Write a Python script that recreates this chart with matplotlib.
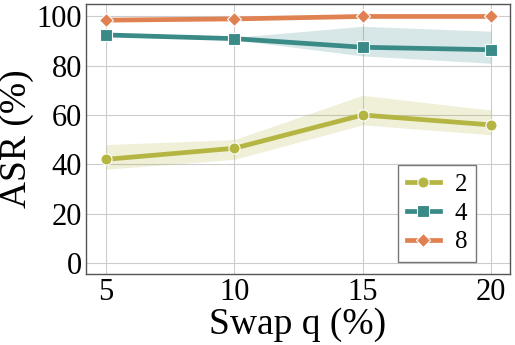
import matplotlib
matplotlib.use('Agg')
import matplotlib.pyplot as plt
import numpy as np

plt.rcParams['font.family'] = ['Liberation Serif', 'DejaVu Serif']
plt.rcParams['mathtext.fontset'] = 'stix'

# swap ratio q (%)
q = [5, 10, 15, 20]

# ASR mean and band (low/high) per setting
asr_2 = [42, 46.5, 60, 56]
lo_2 = [38, 42, 56, 52]
hi_2 = [48, 50, 68, 62]

asr_4 = [92.5, 91, 87.5, 86.5]
lo_4 = [92, 90.5, 84, 81]
hi_4 = [93, 91.5, 96, 94]

asr_8 = [98.5, 99, 100, 100]
lo_8 = [98, 98.7, 99.8, 99.8]
hi_8 = [99, 99.3, 100, 100]

labels = ['2', '4', '8']
colors = ['#b5b543', '#3a8a87', '#e08152']
markers = ['o', 's', 'D']

fig, ax = plt.subplots(figsize=(5.15, 3.45), dpi=100)

series = [(asr_2, lo_2, hi_2), (asr_4, lo_4, hi_4), (asr_8, lo_8, hi_8)]
for (m, lo, hi), lab, c, mk in zip(series, labels, colors, markers):
    ax.fill_between(q, lo, hi, color=c, alpha=0.2, linewidth=0)
    ax.plot(q, m, color=c, marker=mk, lw=3.4, markersize=8 if mk != 'D' else 7.5,
            markeredgecolor='white', markeredgewidth=0.8, label=lab)

ax.set_xlim(4.22, 20.74)
ax.set_ylim(-4.5, 105)
ax.set_xticks(q)
ax.set_yticks([0, 20, 40, 60, 80, 100])
ax.grid(True, color='#cccccc', lw=0.8)
ax.set_axisbelow(True)
for s in ax.spines.values():
    s.set_color('#555555')
    s.set_linewidth(1.0)
ax.tick_params(labelsize=22, length=0, pad=3)

ax.set_xlabel('Swap q (%)', fontsize=27, labelpad=0)
ax.set_ylabel('ASR (%)', fontsize=27, labelpad=2)

leg = ax.legend(loc='lower right', fontsize=18, fancybox=False, framealpha=1,
                edgecolor='#777777', handlelength=1.3, borderaxespad=0,
                labelspacing=0.25, handletextpad=0.6, borderpad=0.35,
                bbox_to_anchor=(0.92, 0.044))
leg.get_frame().set_linewidth(1.0)

fig.subplots_adjust(left=0.167, right=0.99, top=0.988, bottom=0.206)
plt.savefig('out.png', dpi=100)
